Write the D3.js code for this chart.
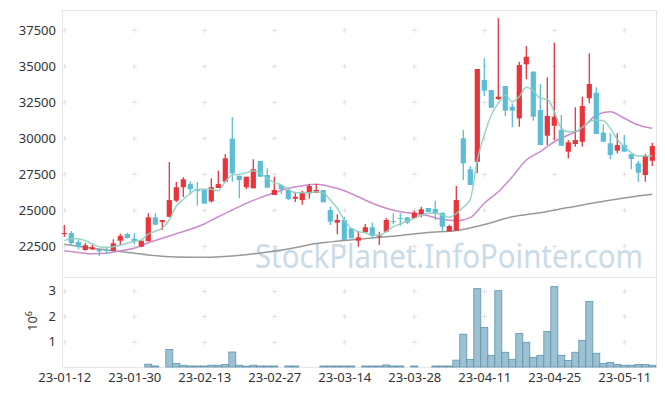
<!DOCTYPE html>
<html>
<head>
<meta charset="utf-8">
<script src="https://cdn.jsdelivr.net/npm/d3@7"></script>
<style>
  body { margin: 0; background: #fff; }
  text { font-family: "Noto Sans", "Open Sans", sans-serif; fill: #333; }
</style>
</head>
<body>
<svg id="chart" width="665" height="396"></svg>
<script>
// trading days (KRX), one per candle
const dates = ['23-01-12','23-01-13','23-01-16','23-01-17','23-01-18','23-01-19','23-01-20','23-01-25','23-01-26','23-01-27',
  '23-01-30','23-01-31','23-02-01','23-02-02','23-02-03','23-02-06','23-02-07','23-02-08','23-02-09','23-02-10',
  '23-02-13','23-02-14','23-02-15','23-02-16','23-02-17','23-02-20','23-02-21','23-02-22','23-02-23','23-02-24',
  '23-02-27','23-02-28','23-03-02','23-03-03','23-03-06','23-03-07','23-03-08','23-03-09','23-03-10','23-03-13',
  '23-03-14','23-03-15','23-03-16','23-03-17','23-03-20','23-03-21','23-03-22','23-03-23','23-03-24','23-03-27',
  '23-03-28','23-03-29','23-03-30','23-03-31','23-04-03','23-04-04','23-04-05','23-04-06','23-04-07','23-04-10',
  '23-04-11','23-04-12','23-04-13','23-04-14','23-04-17','23-04-18','23-04-19','23-04-20','23-04-21','23-04-24',
  '23-04-25','23-04-26','23-04-27','23-04-28','23-05-02','23-05-03','23-05-04','23-05-08','23-05-09','23-05-10',
  '23-05-11','23-05-12','23-05-15','23-05-16','23-05-17'];

const opens = [23350,23400,22780,22220,22270,22270,22250,22170,22870,23330,
  23010,22450,22830,24490,24170,24530,25650,26580,26800,26440,
  26400,25600,26530,26970,29950,27380,26580,26510,28400,27430,
  26040,26740,26390,25780,25690,26160,26200,26390,25000,24120,
  24310,23730,22870,23450,23800,23150,23490,24230,24450,24490,
  24440,24720,25140,25070,24810,23520,23560,29980,27830,28350,
  34030,33330,32710,33610,32170,31370,35120,34610,31940,30160,
  30850,30560,29050,29580,29740,32760,33150,30370,29630,29120,
  29510,28890,28240,27430,28420];
const highs = [23950,23550,22970,22730,22590,22310,22450,22970,23350,23420,
  23380,22870,24770,24770,24300,28330,26940,27270,26990,26940,
  26400,27200,27730,28890,31440,27380,27310,28520,28400,27900,
  27310,26740,26390,26270,26340,26800,26800,26390,25230,24700,
  24530,23730,23490,24030,24120,23490,24420,24770,24770,24490,
  24950,25230,25140,25650,24810,23980,26670,30560,28060,34790,
  35530,33330,38310,33610,32400,35300,36390,34610,33750,34220,
  36620,31600,29860,32130,32870,35880,33520,30950,30330,30330,
  30210,28890,28400,28890,29670];
const lows = [23150,22500,22270,22170,22220,21800,21950,22170,22550,23010,
  22640,22410,22830,23940,23610,24490,25560,25900,26060,25300,
  25420,25520,26530,26970,26970,25810,26440,26510,27310,26550,
  26040,26090,25690,25560,25370,25780,26200,25530,23960,23310,
  22920,23030,22450,23450,23010,22570,23490,24030,23890,24030,
  24440,24490,24860,24310,23560,23520,23560,27080,26740,27550,
  32920,32100,32640,31530,30740,30780,34080,31200,29510,29510,
  29860,29460,28590,29400,29400,32410,30280,29740,28520,28940,
  29050,27830,26970,26970,28060];
const closes = [23400,22700,22450,22550,22410,22130,22200,22690,23200,23060,
  22830,22870,24490,23980,24300,25690,26580,27130,26440,26330,
  25450,26580,26800,28590,27550,27080,27310,27830,27310,26550,
  26390,26440,25760,25920,26200,26670,26390,25530,24190,24310,
  22920,23030,23100,23800,23190,23240,24310,24190,24400,24120,
  24810,25050,24860,24770,23840,23890,25690,28240,26740,34790,
  33290,32100,32870,31900,31900,35070,35640,31480,29510,31530,
  31480,29460,29700,29860,32220,33750,30280,29740,28820,29510,
  29050,28540,27590,28750,29440];
// volume, millions of shares
const volumes = [0,0,0,0,0,0,0,0,0,0,
  0,0,0.11,0.04,0,0.69,0.14,0.07,0.04,0.04,
  0.04,0.07,0.07,0.10,0.59,0.07,0.03,0.07,0.04,0.04,
  0.04,0,0.04,0.04,0,0,0,0.04,0.04,0.04,
  0.04,0.04,0,0.04,0.04,0.04,0.08,0.04,0.04,0,
  0.04,0,0,0.04,0.04,0.04,0.27,1.29,0.30,3.08,
  1.56,0.46,3.00,0.58,0.30,1.32,0.97,0.38,0.46,1.40,
  3.16,0.46,0.26,0.58,1.05,2.58,0.54,0.14,0.18,0.10,
  0.07,0.07,0.10,0.10,0.07];

// moving averages
const ma5 = [22870,23010,23010,22870,22640,22450,22410,22450,22550,22690,
  22830,22920,23330,23520,23750,24310,25280,25740,26160,26440,
  26440,26440,26340,26970,27430,27480,27590,27730,27550,27200,
  26900,26740,26440,26200,26200,26200,26270,26200,25690,25120,
  24310,23730,23490,23420,23240,23240,23490,23840,24030,24240,
  24420,24650,24770,24770,24650,24490,24770,25190,25740,28470,
  30210,31600,32410,32990,32520,32870,33520,33280,32760,32690,
  31830,30670,30440,30440,30740,31130,31250,31200,30670,29910,
  29400,28980,28750,28750,28770];
const ma20Idx = d3.range(0, 85, 2);
const ma20 = [22170,22050,21960,21990,22170,22340,22730,23040,23350,23660,
  24030,24530,25000,25460,25860,26200,26510,26690,26780,26620,
  26340,25920,25470,25120,24880,24770,24600,24350,24260,24470,
  25470,26270,27310,28470,29050,29740,30210,30670,31600,31830,
  31370,30900,30670];
const ma60Idx = d3.range(0, 85, 4);
const ma60 = [22620,22340,22120,21880,21740,21720,21810,22010,22290,22670,
  22880,23060,23230,23440,23580,23990,24530,24810,25170,25520,
  25830,26090];

const priceTicks = [22500, 25000, 27500, 30000, 32500, 35000, 37500];
const volTicks = [1, 2, 3];
const xTickIdx = [0, 10, 20, 30, 40, 50, 60, 70, 80];

const svg = d3.select('#chart');
const plotL = 62, plotR = 656, plotT = 10, split = 277, plotB = 367;

const x = d3.scaleLinear().domain([0, 84]).range([64.3, 652.3]);
const y = d3.scaleLinear().domain([22500, 37500]).range([246, 30]);
const yv = d3.scaleLinear().domain([0, 3]).range([plotB, 290.7]);

const upColor = '#e8343a', downColor = '#5bbdd6';

// frame
const frame = svg.append('g').attr('stroke', '#e6e6e6').attr('fill', 'none');
frame.append('rect').attr('x', plotL + 0.5).attr('y', plotT + 0.5)
  .attr('width', plotR - plotL).attr('height', plotB - plotT);
frame.append('line').attr('x1', plotL).attr('x2', plotR + 0.5)
  .attr('y1', split + 0.5).attr('y2', split + 0.5);

// "+" grid marks
const marks = svg.append('g').attr('stroke', '#e2e2e2');
const markYs = priceTicks.map(y).concat(volTicks.map(yv));
xTickIdx.forEach(i => markYs.forEach(my => {
  const mx = Math.round(x(i)) + 0.5, yy = Math.round(my) + 0.5;
  marks.append('line').attr('x1', mx - 2.5).attr('x2', mx + 2.5).attr('y1', yy).attr('y2', yy);
  marks.append('line').attr('x1', mx).attr('x2', mx).attr('y1', yy - 2.5).attr('y2', yy + 2.5);
}));

// watermark
svg.append('text')
  .attr('x', 255).attr('y', 268)
  .attr('textLength', 388).attr('lengthAdjust', 'spacingAndGlyphs')
  .style('font-size', '33px').style('fill', '#c9dbe6')
  .text('StockPlanet.InfoPointer.com');

// axes
const styleTicks = g => {
  g.select('.domain').remove();
  g.selectAll('text').style('font-size', '13px').attr('fill', '#333');
};
svg.append('g').attr('transform', `translate(${plotL},0)`)
  .call(d3.axisLeft(y).tickValues(priceTicks).tickSize(0).tickPadding(6).tickFormat(d3.format('d')))
  .call(styleTicks);
svg.append('g').attr('transform', `translate(${plotL},0)`)
  .call(d3.axisLeft(yv).tickValues(volTicks).tickSize(0).tickPadding(6).tickFormat(d3.format('d')))
  .call(styleTicks);
svg.append('g').attr('transform', `translate(0,${plotB})`)
  .call(d3.axisBottom(x).tickValues(xTickIdx).tickSize(0).tickPadding(6).tickFormat(i => dates[i]))
  .call(styleTicks);
svg.selectAll('.tick text').style('font-family', '"Noto Sans", sans-serif');

const vLabel = svg.append('text')
  .attr('transform', 'translate(37,321) rotate(-90)')
  .attr('text-anchor', 'middle').style('font-size', '13px');
vLabel.append('tspan').text('10');
vLabel.append('tspan').attr('dy', -5).style('font-size', '9px').text('6');

// volume bars
const vg = svg.append('g');
volumes.forEach((v, i) => {
  if (v <= 0) return;
  vg.append('rect')
    .attr('x', x(i) - 3.5).attr('width', 7)
    .attr('y', yv(v)).attr('height', plotB - yv(v))
    .attr('fill', '#9bc1d2').attr('stroke', '#5f94ad').attr('stroke-width', 0.8);
});

// moving averages
const line = d3.line().curve(d3.curveMonotoneX).x(d => x(d[0])).y(d => y(d[1]));
svg.append('path').datum(ma60.map((v, k) => [ma60Idx[k], v]))
  .attr('d', line).attr('fill', 'none').attr('stroke', '#999').attr('stroke-width', 1.5);
svg.append('path').datum(ma20.map((v, k) => [ma20Idx[k], v]))
  .attr('d', line).attr('fill', 'none').attr('stroke', '#cc8ccc').attr('stroke-width', 1.5);

// candles
const cg = svg.append('g');
dates.forEach((d, i) => {
  const up = closes[i] >= opens[i];
  const col = up ? upColor : downColor;
  const cx = x(i);
  cg.append('line').attr('x1', cx).attr('x2', cx)
    .attr('y1', y(highs[i])).attr('y2', y(lows[i]))
    .attr('stroke', col).attr('stroke-width', 1.3);
  const y0 = y(Math.max(opens[i], closes[i])), y1 = y(Math.min(opens[i], closes[i]));
  cg.append('rect').attr('x', cx - 2.6).attr('width', 5.2)
    .attr('y', y0).attr('height', Math.max(1, y1 - y0))
    .attr('fill', col);
});

svg.append('path').datum(ma5.map((v, i) => [i, v]))
  .attr('d', line).attr('fill', 'none').attr('stroke', '#8ecfc0').attr('stroke-width', 1.5).attr('opacity', 0.9);
</script>
</body>
</html>
